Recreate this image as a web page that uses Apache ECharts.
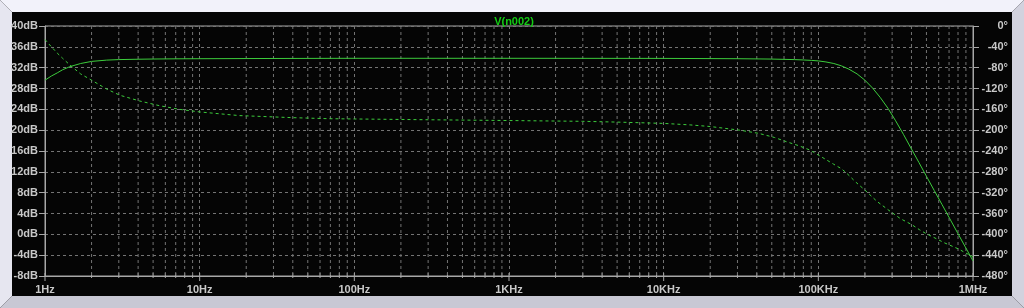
<!DOCTYPE html>
<html>
<head>
<meta charset="utf-8">
<script src="https://cdn.jsdelivr.net/npm/echarts@6/dist/echarts.min.js"></script>
<style>
html,body{margin:0;padding:0;background:#000;}
#c{width:1024px;height:308px;}
</style>
</head>
<body>
<div id="c"></div>
<script>
// ---- data ----
var magFreq = [1, 1.1, 1.2, 1.3, 1.45, 1.7, 2, 2.5, 3, 4, 5, 7, 10, 20, 50, 100, 1000, 10000, 30000, 50000, 70000, 80000, 90000, 100000, 112000, 126000, 141000, 158000, 178000, 200000, 224000, 251000, 282000, 316000, 355000, 398000, 447000, 501000, 562000, 631000, 708000, 794000, 891000, 1000000];
var magDb   = [29.6, 30.4, 31.0, 31.6, 32.2, 32.8, 33.2, 33.45, 33.55, 33.62, 33.66, 33.7, 33.72, 33.75, 33.78, 33.8, 33.8, 33.78, 33.72, 33.65, 33.55, 33.48, 33.4, 33.3, 33.1, 32.8, 32.35, 31.7, 30.8, 29.6, 28.1, 26.3, 24.2, 21.8, 19.2, 16.5, 13.8, 11.1, 8.4, 5.7, 3.0, 0.3, -2.4, -5.1];

var phFreq = [1, 1.1, 1.2, 1.3, 1.45, 1.7, 2, 2.5, 3.05, 4.1, 5.5, 7.4, 10, 18, 40, 69, 100, 300, 680, 3000, 5000, 10000, 15000, 20000, 31000, 41000, 52000, 62000, 75000, 88000, 110000, 125000, 141000, 153000, 175000, 200000, 240000, 295000, 340000, 400000, 450000, 500000, 550000, 650000, 805000, 900000, 1000000];
var phDeg  = [-26, -40, -52, -62, -75, -92, -104, -121, -133, -144, -153, -160, -165, -172, -176, -178, -178.5, -180, -181, -183, -184.5, -187, -190, -193, -200, -206, -214, -222, -230, -238, -255, -265, -274, -283, -300, -315, -337, -357, -370, -381, -391, -399, -405, -416, -428, -436, -443];

var xTickLabels = ['1Hz', '10Hz', '100Hz', '1KHz', '10KHz', '100KHz', '1MHz'];
var decades = [0, 1, 2, 3, 4, 5];
var minorMult = [2, 3, 4, 5, 6, 7, 8, 9];

// ---- build ----
function pairs(f, v) { return f.map(function (x, i) { return [Math.log10(x), v[i]]; }); }
var minorPos = [];
decades.forEach(function (d) { minorMult.forEach(function (m) { minorPos.push([Math.log10(m * Math.pow(10, d)), 0]); }); });
var majorPos = [];
for (var i = 0; i < xTickLabels.length; i++) majorPos.push([i, 1]);
var tickPos = minorPos.concat(majorPos);

var txt = '#c8c8c8';
var axisCol = '#a8a8a8';
var gridCol = '#747474';
var green = '#3ccc3c';
var font = 'Liberation Sans';

var chart = echarts.init(document.getElementById('c'), null, { renderer: 'canvas' });
chart.setOption({
  backgroundColor: '#050505',
  animation: false,
  title: {
    text: 'V(n002)', left: 509, top: 11, textAlign: 'center',
    textStyle: { color: '#14cc14', fontSize: 11, fontWeight: 'bold', fontFamily: font }
  },
  graphic: [
    { type: 'polygon', shape: { points: [[0,0],[1024,0],[1012,12],[12,12]] }, style: { fill: '#f2f2fa' }, silent: true },
    { type: 'polygon', shape: { points: [[0,0],[12,12],[12,296],[0,308]] }, style: { fill: '#e6e6f0' }, silent: true },
    { type: 'polygon', shape: { points: [[0,308],[12,296],[1012,296],[1024,308]] }, style: { fill: '#c8c8d4' }, silent: true },
    { type: 'polygon', shape: { points: [[1024,0],[1012,12],[1012,296],[1024,308]] }, style: { fill: '#d2d2de' }, silent: true }
  ],
  grid: { left: 45, right: 51, top: 26, bottom: 32, show: true, borderColor: axisCol, borderWidth: 1, backgroundColor: 'transparent' },
  xAxis: {
    type: 'value', min: 0, max: 6, interval: 1,
    axisLine: { show: true, onZero: false, lineStyle: { color: axisCol } },
    axisTick: { show: false },
    splitLine: { show: true, lineStyle: { color: gridCol, type: [3, 3] } },
    axisLabel: {
      color: txt, fontSize: 11, fontWeight: 'bold', fontFamily: font, margin: 8,
      formatter: function (v) { return xTickLabels[Math.round(v)]; }
    }
  },
  yAxis: [
    {
      type: 'value', min: -8, max: 40, interval: 4, position: 'left',
      axisLine: { show: true, onZero: false, lineStyle: { color: axisCol } },
      axisTick: { show: true, length: 6, lineStyle: { color: axisCol } },
      splitLine: { show: true, lineStyle: { color: gridCol, type: [3, 3] } },
      axisLabel: { color: txt, fontSize: 11, fontWeight: 'bold', fontFamily: font, margin: 7, formatter: '{value}dB' }
    },
    {
      type: 'value', min: -480, max: 0, interval: 40, position: 'right',
      axisLine: { show: true, onZero: false, lineStyle: { color: axisCol } },
      axisTick: { show: true, length: 6, lineStyle: { color: axisCol } },
      splitLine: { show: false },
      axisLabel: { color: txt, fontSize: 11, fontWeight: 'bold', fontFamily: font, margin: 35, align: 'right', formatter: '{value}°' }
    }
  ],
  series: [
    {
      type: 'custom', silent: true, xAxisIndex: 0, yAxisIndex: 0, z: 1,
      data: tickPos,
      renderItem: function (params, api) {
        var x = api.value(0), major = api.value(1);
        var top = api.coord([x, 40]), bot = api.coord([x, -8]);
        var children = [
          { type: 'line', shape: { x1: bot[0], y1: bot[1] - 3, x2: bot[0], y2: bot[1] + (major ? 5 : 2) }, style: { stroke: axisCol, lineWidth: 1 } }
        ];
        if (!major) {
          children.push({ type: 'line', shape: { x1: top[0], y1: top[1], x2: bot[0], y2: bot[1] }, style: { stroke: gridCol, lineWidth: 1, lineDash: [3, 3] } });
        }
        return { type: 'group', children: children };
      }
    },
    {
      name: 'mag', type: 'line', yAxisIndex: 0, data: pairs(magFreq, magDb),
      showSymbol: false, smooth: false, z: 3,
      lineStyle: { color: green, width: 1 }
    },
    {
      name: 'phase', type: 'line', yAxisIndex: 1, data: pairs(phFreq, phDeg),
      showSymbol: false, smooth: false, z: 3,
      lineStyle: { color: green, width: 1, type: [3, 3] }
    }
  ]
});
</script>
</body>
</html>
